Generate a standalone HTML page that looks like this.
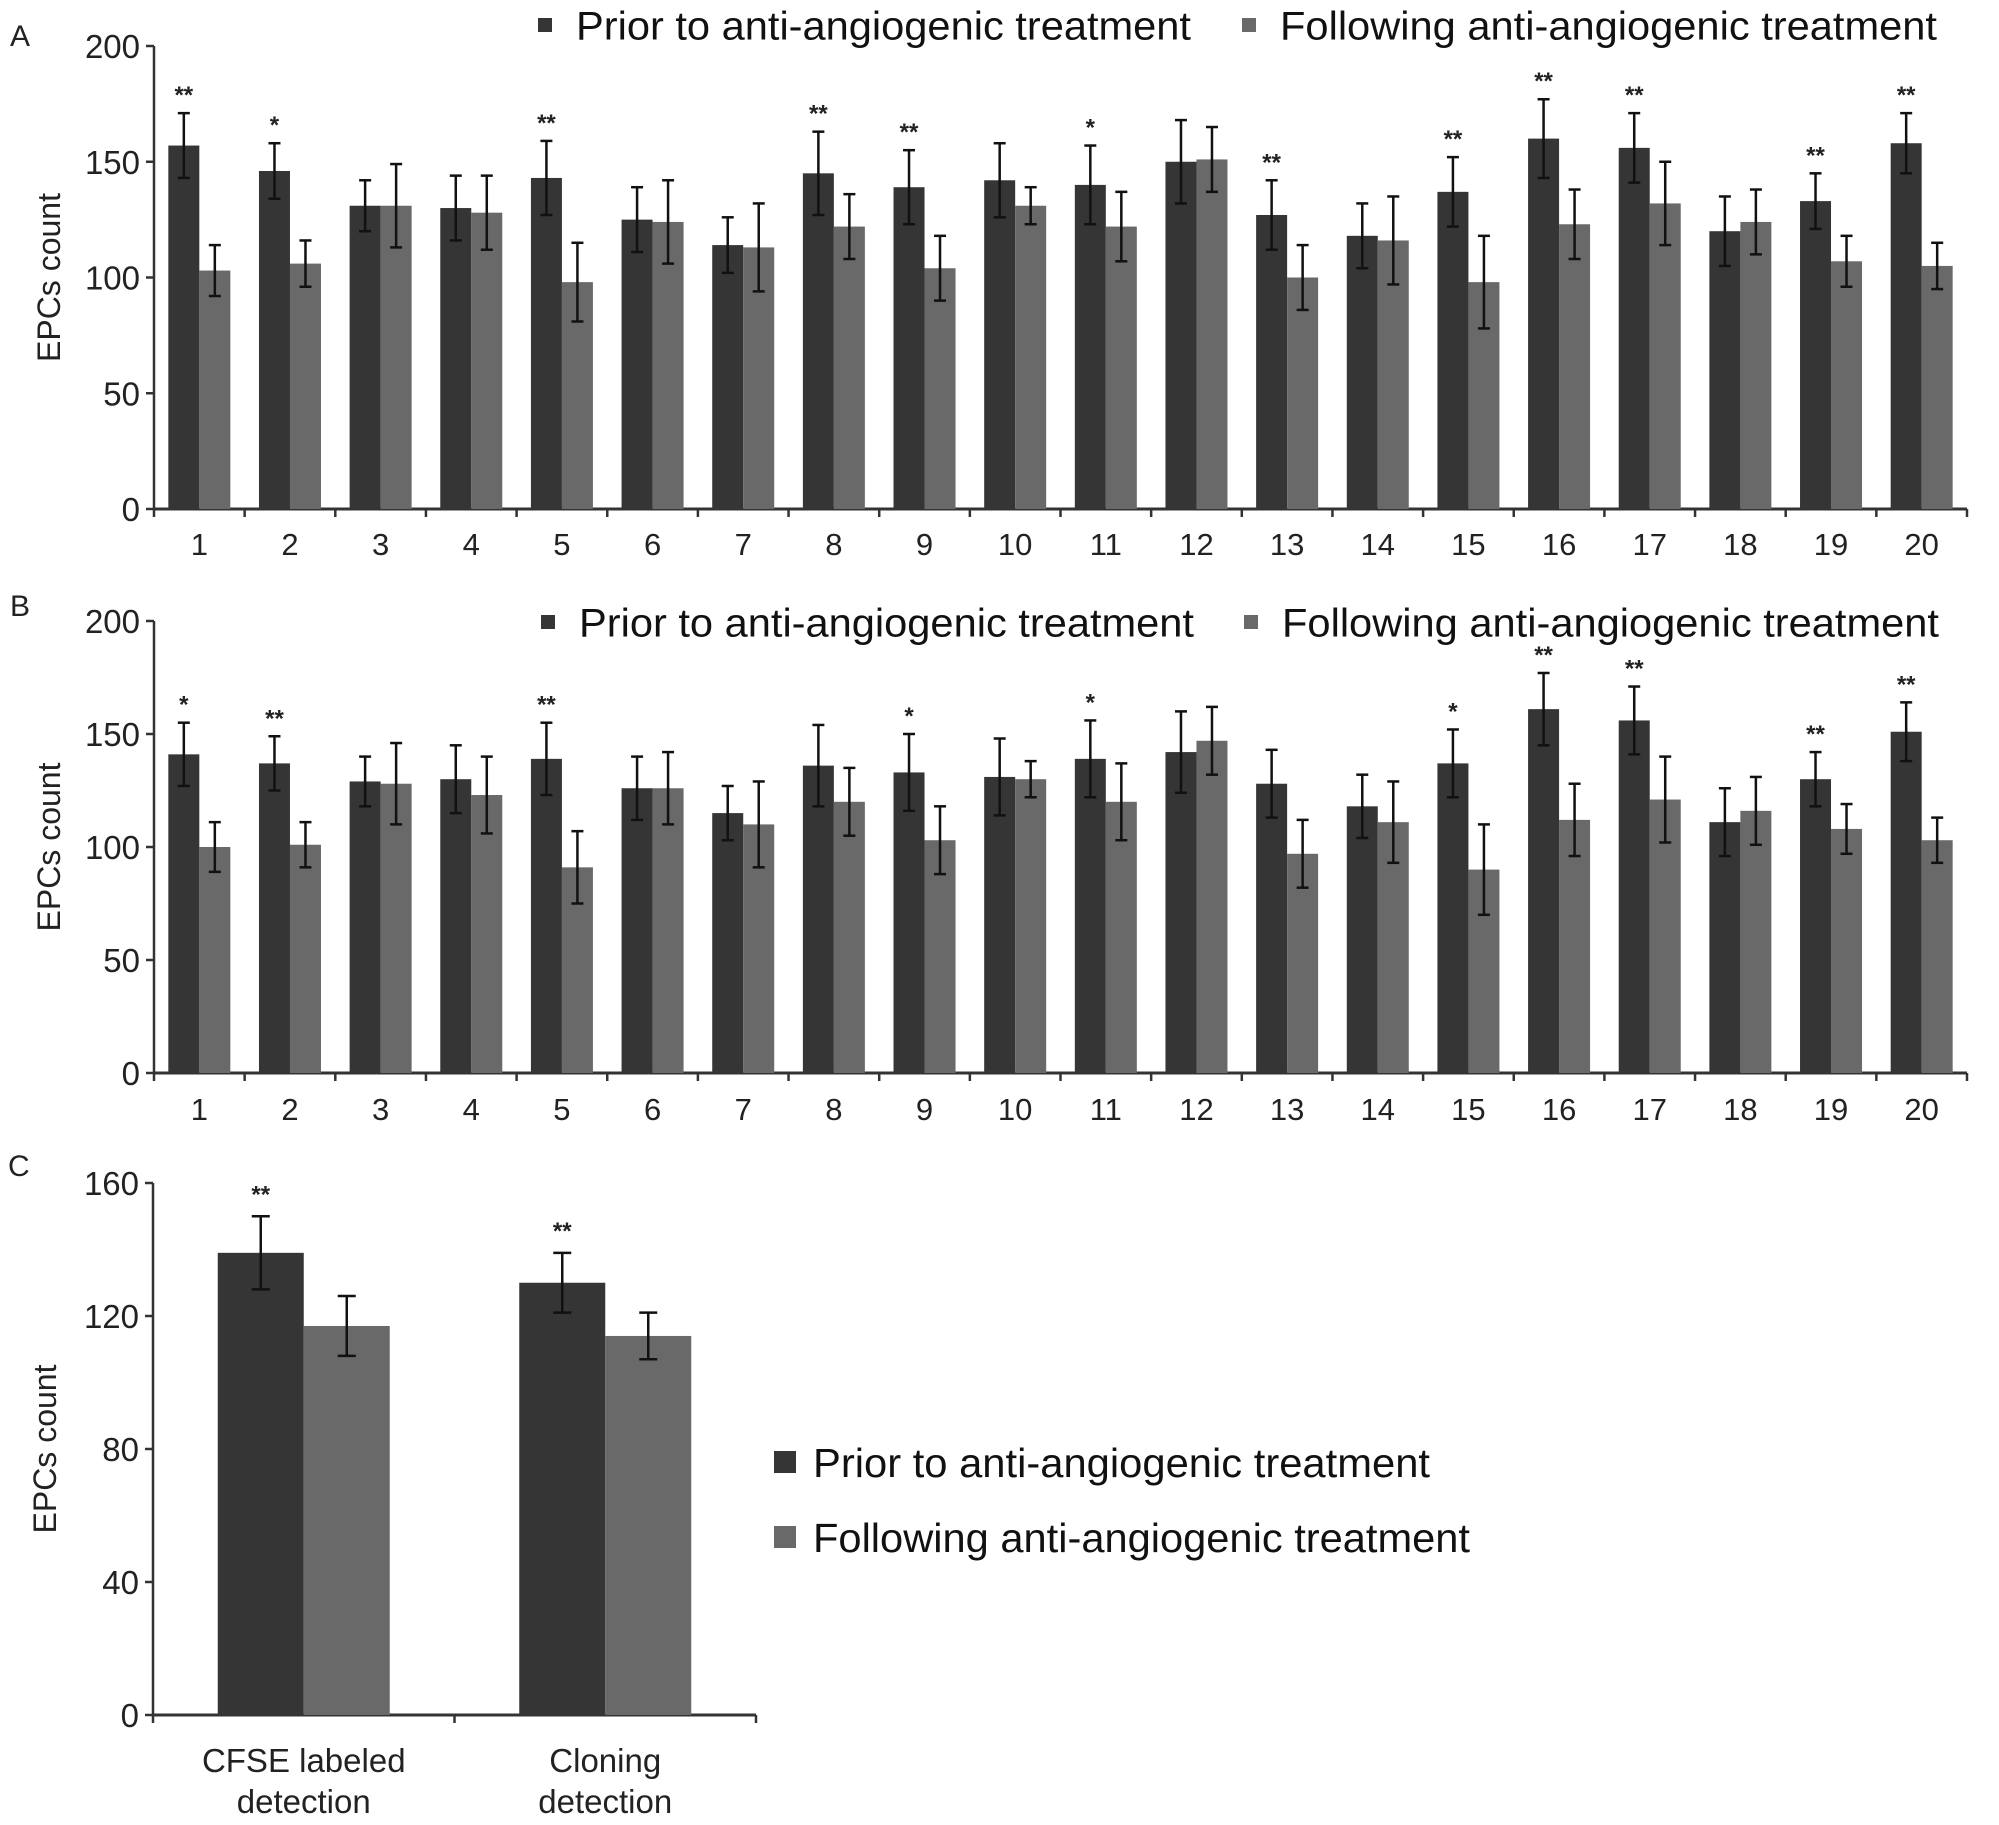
<!DOCTYPE html>
<html><head><meta charset="utf-8"><style>
html,body{margin:0;padding:0;background:#fff;}
svg{display:block;font-family:"Liberation Sans",Arial,sans-serif;}
</style></head><body>
<svg id="fig" width="1999" height="1825" viewBox="0 0 1999 1825"></svg>
<script>
const categories = ["1","2","3","4","5","6","7","8","9","10","11","12","13","14","15","16","17","18","19","20"];
const aPrior = [157,146,131,130,143,125,114,145,139,142,140,150,127,118,137,160,156,120,133,158];
const aPriorErr = [14,12,11,14,16,14,12,18,16,16,17,18,15,14,15,17,15,15,12,13];
const aAfter = [103,106,131,128,98,124,113,122,104,131,122,151,100,116,98,123,132,124,107,105];
const aAfterErr = [11,10,18,16,17,18,19,14,14,8,15,14,14,19,20,15,18,14,11,10];
const aStars = ["**","*","","","**","","","**","**","","*","","**","","**","**","**","","**","**"];
const bPrior = [141,137,129,130,139,126,115,136,133,131,139,142,128,118,137,161,156,111,130,151];
const bPriorErr = [14,12,11,15,16,14,12,18,17,17,17,18,15,14,15,16,15,15,12,13];
const bAfter = [100,101,128,123,91,126,110,120,103,130,120,147,97,111,90,112,121,116,108,103];
const bAfterErr = [11,10,18,17,16,16,19,15,15,8,17,15,15,18,20,16,19,15,11,10];
const bStars = ["*","**","","","**","","","","*","","*","","","","*","**","**","","**","**"];
const cCategories = [["CFSE labeled","detection"],["Cloning","detection"]];
const cPrior = [139,130];
const cPriorErr = [11,9];
const cAfter = [117,114];
const cAfterErr = [9,7];
const cStars = ["**","**"];
const ticksAB = [0,50,100,150,200];
const ticksC = [0,40,80,120,160];

const NS="http://www.w3.org/2000/svg";
const svg=document.getElementById('fig');
function mk(tag,attrs,parent,txt){const e=document.createElementNS(NS,tag);for(const k in attrs)e.setAttribute(k,attrs[k]);if(txt!==undefined)e.textContent=txt;(parent||svg).appendChild(e);return e;}
const DARK="#353535", LIGHT="#696969";

function errBar(g,x,yTop,yBot,cap){
  const l=mk('line',{x1:x,x2:x,y1:yTop,y2:yBot,stroke:'#111','stroke-width':2.5},g);
  
  
  mk('line',{x1:x-cap,x2:x+cap,y1:yTop,y2:yTop,stroke:'#111','stroke-width':2.5},g);
  mk('line',{x1:x-cap,x2:x+cap,y1:yBot,y2:yBot,stroke:'#111','stroke-width':2.5},g);
}

function panel(o){
  const g=mk('g',{});
  
  
  const yS=v=>o.y0+(o.yTop-o.y0)*(v/o.max);
  const n=o.cats.length, step=(o.x1-o.x0)/n;
  const xC=i=>o.x0+step*(i+0.5);
  const lt=mk('text',{x:o.letterX,y:o.letterY,'font-size':30,fill:'#222'},g,o.letter);
  
  
  mk('line',{x1:o.x0,x2:o.x0,y1:o.yTop,y2:o.y0+1,stroke:'#333','stroke-width':2.5},g);
  o.ticks.forEach(t=>{
    mk('line',{x1:o.x0-8,x2:o.x0,y1:yS(t),y2:yS(t),stroke:'#333','stroke-width':2.5},g);
    const tl=mk('text',{x:o.x0-14,y:yS(t)+12,'font-size':33,'text-anchor':'end',fill:'#222'},g,String(t));
    
    
  });
  const yt=mk('text',{x:0,y:0,'font-size':32,'text-anchor':'middle',fill:'#222',transform:`translate(${o.titleX},${(o.yTop+o.y0)/2}) rotate(-90)`},g,'EPCs count');
  
  
  mk('line',{x1:o.x0,x2:o.x1,y1:o.y0,y2:o.y0,stroke:'#333','stroke-width':3},g);
  for(let i=0;i<=n;i++){const x=o.x0+step*i;mk('line',{x1:x,x2:x,y1:o.y0,y2:o.y0+8,stroke:'#333','stroke-width':2.5},g);}
  o.cats.forEach((c,i)=>{
    const lines=Array.isArray(c)?c:[c];
    lines.forEach((s,k)=>{
      const t=mk('text',{x:xC(i),y:o.labelY+k*o.lineH,'font-size':o.labelFs,'text-anchor':'middle',fill:'#222'},g,s);
      
      
    });
  });
  o.cats.forEach((c,i)=>{
    const cx=xC(i), bw=o.bw;
    const specs=[[o.prior[i],o.priorErr[i],cx-bw,DARK,'bar-prior'],[o.after[i],o.afterErr[i],cx,LIGHT,'bar-following']];
    specs.forEach(([v,e,x,col,nm])=>{
      const r=mk('rect',{x:x,y:yS(v),width:bw,height:o.y0-yS(v),fill:col},g);
      
      
    });
    specs.forEach(([v,e,x])=>errBar(g,x+bw/2,yS(v+e),yS(v-e),o.cap));
    if(o.stars[i]){
      const s=mk('text',{x:cx-bw/2,y:yS(o.prior[i]+o.priorErr[i])-o.starGap,'font-size':o.starFs,'font-weight':'bold','text-anchor':'middle',fill:'#222'},g,o.stars[i]);
      
      
    }
  });
  o.legend.forEach(([x,y,col,txt,w])=>{
    const lg=mk('g',{},g);
    
    
    mk('rect',{x:x,y:y-o.legSq/2,width:o.legSq,height:o.legSq,fill:col},lg);
    mk('text',{x:x+o.legSq+o.legGap,y:y+o.legFs*0.36,'font-size':o.legFs,fill:'#111',textLength:w,lengthAdjust:'spacingAndGlyphs'},lg,txt);
  });
}
const P="Prior to anti-angiogenic treatment", F="Following anti-angiogenic treatment";
panel({name:'panel-a',letter:'A',letterX:10,letterY:46,x0:154,x1:1967,y0:509,yTop:46,max:200,ticks:ticksAB,titleX:60,
  cats:categories,prior:aPrior,priorErr:aPriorErr,after:aAfter,afterErr:aAfterErr,stars:aStars,
  bw:31,cap:6,labelY:555,lineH:0,labelFs:31,starFs:24,starGap:10,
  legend:[[538,25,DARK,P,615],[1242,25,LIGHT,F,657]],legSq:14,legGap:24,legFs:40});
panel({name:'panel-b',letter:'B',letterX:10,letterY:616,x0:154,x1:1967,y0:1073,yTop:621,max:200,ticks:ticksAB,titleX:60,
  cats:categories,prior:bPrior,priorErr:bPriorErr,after:bAfter,afterErr:bAfterErr,stars:bStars,
  bw:31,cap:6,labelY:1120,lineH:0,labelFs:31,starFs:24,starGap:10,
  legend:[[541,622,DARK,P,615],[1244,622,LIGHT,F,657]],legSq:14,legGap:24,legFs:40});
panel({name:'panel-c',letter:'C',letterX:8,letterY:1176,x0:153,x1:756,y0:1715,yTop:1183,max:160,ticks:ticksC,titleX:56,
  cats:cCategories,prior:cPrior,priorErr:cPriorErr,after:cAfter,afterErr:cAfterErr,stars:cStars,
  bw:86,cap:9,labelY:1772,lineH:41,labelFs:33,starFs:24,starGap:14,
  legend:[[774,1462,DARK,P,617],[774,1537,LIGHT,F,657]],legSq:22,legGap:17,legFs:41});
</script>
</body></html>
